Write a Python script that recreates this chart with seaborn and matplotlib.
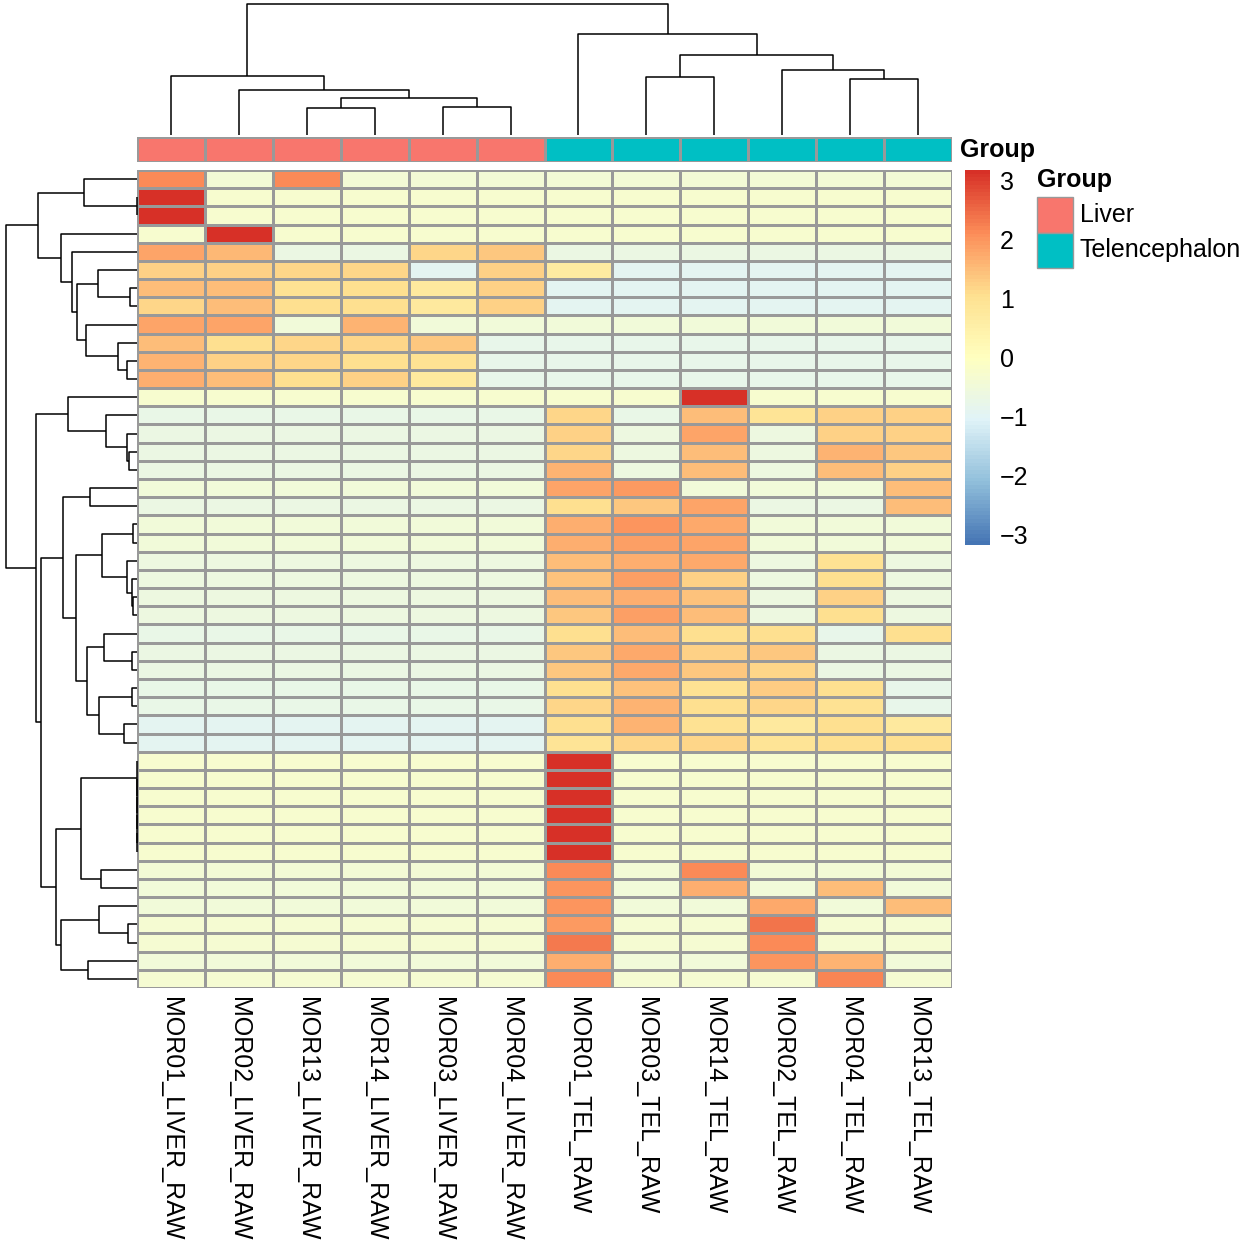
import numpy as np
import pandas as pd
import matplotlib
matplotlib.use("Agg")
import matplotlib.pyplot as plt
import seaborn as sns
from matplotlib.colors import LinearSegmentedColormap, ListedColormap
from matplotlib.patches import Rectangle

sns.set_style("white")
plt.rcParams["font.family"] = ["Liberation Sans", "DejaVu Sans"]
plt.rcParams["text.color"] = "black"
plt.rcParams["xtick.labelcolor"] = "black"
plt.rcParams["ytick.labelcolor"] = "black"
plt.rcParams["axes.labelcolor"] = "black"

# ---------------- data ----------------
sample_names = ["MOR01_LIVER_RAW", "MOR02_LIVER_RAW", "MOR13_LIVER_RAW", "MOR14_LIVER_RAW",
                "MOR03_LIVER_RAW", "MOR04_LIVER_RAW", "MOR01_TEL_RAW", "MOR03_TEL_RAW",
                "MOR14_TEL_RAW", "MOR02_TEL_RAW", "MOR04_TEL_RAW", "MOR13_TEL_RAW"]
sample_groups = ["Liver"] * 6 + ["Telencephalon"] * 6
group_levels = ["Liver", "Telencephalon"]
group_colors = ["#F8766D", "#00BFC4"]

MOR01_LIVER_RAW = [2.14, 3.18, 3.18, -0.29, 1.80, 1.27, 1.48, 1.17, 1.80, 1.48, 1.60, 1.70,
                   -0.29, -0.74, -0.64, -0.64, -0.64, -0.48, -0.64, -0.48, -0.48, -0.58, -0.58, -0.58, -0.58, -0.74, -0.64, -0.64, -0.74, -0.74, -0.90, -0.95,
                   -0.29, -0.29, -0.29, -0.29, -0.29, -0.29, -0.43, -0.48, -0.48, -0.37, -0.37, -0.48, -0.37]
MOR02_LIVER_RAW = [-0.43, -0.29, -0.29, 3.18, 1.54, 1.27, 1.48, 1.48, 1.80, 1.06, 1.27, 1.48,
                   -0.29, -0.74, -0.64, -0.64, -0.64, -0.48, -0.64, -0.48, -0.48, -0.58, -0.58, -0.58, -0.58, -0.74, -0.64, -0.64, -0.74, -0.74, -0.90, -0.95,
                   -0.29, -0.29, -0.29, -0.29, -0.29, -0.29, -0.43, -0.48, -0.48, -0.37, -0.37, -0.48, -0.37]
MOR13_LIVER_RAW = [2.14, -0.29, -0.29, -0.29, -0.64, 1.17, 1.00, 1.06, -0.50, 1.17, 1.17, 1.06,
                   -0.29, -0.74, -0.64, -0.64, -0.64, -0.48, -0.64, -0.48, -0.48, -0.58, -0.58, -0.58, -0.58, -0.74, -0.64, -0.64, -0.74, -0.74, -0.90, -0.95,
                   -0.29, -0.29, -0.29, -0.29, -0.29, -0.29, -0.43, -0.48, -0.48, -0.37, -0.37, -0.48, -0.37]
MOR14_LIVER_RAW = [-0.43, -0.29, -0.29, -0.29, -0.64, 1.17, 1.06, 1.06, 1.60, 1.17, 1.06, 1.27,
                   -0.29, -0.74, -0.64, -0.64, -0.64, -0.48, -0.64, -0.48, -0.48, -0.58, -0.58, -0.58, -0.58, -0.74, -0.64, -0.64, -0.74, -0.74, -0.90, -0.95,
                   -0.29, -0.29, -0.29, -0.29, -0.29, -0.29, -0.43, -0.48, -0.48, -0.37, -0.37, -0.48, -0.37]
MOR03_LIVER_RAW = [-0.43, -0.29, -0.29, -0.29, 1.17, -0.90, 0.74, 0.74, -0.50, 1.38, 1.00, 0.74,
                   -0.29, -0.74, -0.64, -0.64, -0.64, -0.48, -0.64, -0.48, -0.48, -0.58, -0.58, -0.58, -0.58, -0.74, -0.64, -0.64, -0.74, -0.74, -0.90, -0.95,
                   -0.29, -0.29, -0.29, -0.29, -0.29, -0.29, -0.43, -0.48, -0.48, -0.37, -0.37, -0.48, -0.37]
MOR04_LIVER_RAW = [-0.43, -0.29, -0.29, -0.29, 1.38, 1.27, 1.27, 1.27, -0.50, -0.80, -0.80, -0.80,
                   -0.29, -0.74, -0.64, -0.64, -0.64, -0.48, -0.64, -0.48, -0.48, -0.58, -0.58, -0.58, -0.58, -0.74, -0.64, -0.64, -0.74, -0.74, -0.90, -0.95,
                   -0.29, -0.29, -0.29, -0.29, -0.29, -0.29, -0.43, -0.48, -0.48, -0.37, -0.37, -0.48, -0.37]
MOR01_TEL_RAW = [-0.43, -0.29, -0.29, -0.29, -0.68, 0.64, -0.95, -0.95, -0.48, -0.80, -0.80, -0.80,
                 -0.29, 1.17, 1.27, 1.17, 1.60, 1.80, 1.06, 1.70, 1.70, 1.48, 1.43, 1.48, 1.38, 1.06, 1.38, 1.38, 1.06, 1.17, 1.06, 0.90,
                 3.18, 3.18, 3.18, 3.18, 3.18, 3.18, 2.14, 2.00, 2.00, 1.96, 2.33, 1.70, 2.12]
MOR03_TEL_RAW = [-0.43, -0.29, -0.29, -0.29, -0.68, -0.90, -0.95, -0.95, -0.48, -0.80, -0.80, -0.80,
                 -0.29, -0.70, -0.58, -0.58, -0.58, 1.96, 1.38, 2.00, 1.85, 1.70, 1.85, 1.70, 1.85, 1.48, 1.75, 1.75, 1.43, 1.60, 1.60, 1.17,
                 -0.29, -0.29, -0.29, -0.29, -0.29, -0.29, -0.43, -0.48, -0.48, -0.37, -0.37, -0.48, -0.37]
MOR14_TEL_RAW = [-0.43, -0.29, -0.29, -0.29, -0.68, -0.90, -0.95, -0.95, -0.48, -0.80, -0.80, -0.80,
                 3.18, 1.48, 1.80, 1.48, 1.48, -0.48, 1.80, 1.75, 1.80, 1.75, 1.27, 1.43, 1.48, 1.06, 1.27, 1.38, 1.00, 1.06, 1.00, 1.17,
                 -0.29, -0.29, -0.29, -0.29, -0.29, -0.29, 2.14, 1.70, -0.48, -0.37, -0.37, -0.48, -0.37]
MOR02_TEL_RAW = [-0.43, -0.29, -0.29, -0.29, -0.68, -0.90, -0.95, -0.95, -0.48, -0.80, -0.80, -0.80,
                 -0.29, 0.95, -0.58, -0.58, -0.58, -0.48, -0.64, -0.48, -0.48, -0.58, -0.58, -0.58, -0.58, 1.06, 1.38, 1.17, 1.33, 1.17, 0.74, 0.90,
                 -0.29, -0.29, -0.29, -0.29, -0.29, -0.29, -0.43, -0.48, 1.75, 2.40, 2.12, 2.00, -0.37]
MOR04_TEL_RAW = [-0.43, -0.29, -0.29, -0.29, -0.68, -0.90, -0.95, -0.95, -0.48, -0.80, -0.80, -0.80,
                 -0.29, 1.27, 1.27, 1.60, 1.48, -0.48, -0.64, -0.48, -0.48, 1.00, 1.06, 1.27, 1.06, -0.80, -0.64, -0.64, 1.06, 1.00, 1.06, 1.06,
                 -0.29, -0.29, -0.29, -0.29, -0.29, -0.29, -0.43, 1.48, -0.48, -0.37, -0.37, 1.60, 2.17]
MOR13_TEL_RAW = [-0.43, -0.29, -0.29, -0.29, -0.68, -0.90, -0.95, -0.95, -0.48, -0.80, -0.80, -0.80,
                 -0.29, 1.27, 1.27, 1.38, 1.27, 1.48, 1.48, -0.48, -0.48, -0.58, -0.58, -0.58, -0.58, 1.06, -0.64, -0.64, -0.80, -0.80, 0.74, 1.06,
                 -0.29, -0.29, -0.29, -0.29, -0.29, -0.29, -0.43, -0.48, 1.48, -0.37, -0.37, -0.48, -0.37]

# row dendrogram (leaf order 0..44, new clusters numbered from 45)
row_merge_left = [1, 0, 6, 5, 10, 9, 8, 48, 4, 3, 46,
                  15, 14, 13, 12,
                  17, 19, 23, 22, 21, 61, 26, 25, 28, 30, 68, 67, 65, 60,
                  36, 35, 34, 33, 32, 38, 78, 41, 40, 43, 82, 80,
                  73, 59, 55]
row_merge_right = [2, 45, 7, 47, 11, 49, 50, 51, 52, 53, 54,
                   16, 56, 57, 58,
                   18, 20, 24, 62, 63, 64, 27, 66, 29, 31, 69, 70, 71, 72,
                   37, 74, 75, 76, 77, 39, 79, 42, 81, 44, 83, 84,
                   85, 86, 87]
row_merge_height = [0.0, 5.3, 0.74, 3.9, 0.95, 1.9, 5.1, 6.0, 6.5, 7.6, 9.9,
                    0.84, 0.95, 3.1, 6.9,
                    4.7, 0.41, 0.40, 0.45, 1.0, 3.5, 0.52, 3.3, 0.52, 1.27, 3.8, 5.0, 6.1, 7.4,
                    0.0, 0.0, 0.0, 0.0, 0.0, 3.6, 5.6, 0.91, 3.8, 4.9, 7.6, 8.1,
                    9.6, 10.1, 13.06]

# column dendrogram (leaf order 0..11, new clusters numbered from 12)
col_merge_left = [2, 4, 12, 1, 0, 7, 10, 9, 17, 6, 16]
col_merge_right = [3, 5, 13, 14, 15, 8, 11, 18, 19, 20, 21]
col_merge_height = [27.3, 28.3, 37.3, 45.3, 59.3, 58.3, 56.0, 65.3, 80.3, 101.3, 131.0]

colorbar_ticks = [-3, -2, -1, 0, 1, 2, 3]
value_limit = 3.18

# ---------------- build ----------------
columns = [MOR01_LIVER_RAW, MOR02_LIVER_RAW, MOR13_LIVER_RAW, MOR14_LIVER_RAW,
           MOR03_LIVER_RAW, MOR04_LIVER_RAW, MOR01_TEL_RAW, MOR03_TEL_RAW,
           MOR14_TEL_RAW, MOR02_TEL_RAW, MOR04_TEL_RAW, MOR13_TEL_RAW]
df = pd.DataFrame({name: vals for name, vals in zip(sample_names, columns)})
n_rows, n_cols = df.shape

palette7 = ["#4575B4", "#91BFDB", "#E0F3F8", "#FFFFBF", "#FEE090", "#FC8D59", "#D73027"]
cmap = LinearSegmentedColormap.from_list("rdylbu_rev", palette7, N=100)
grid_col = "#999999"
FS = 18.0

W = 1258
fig = plt.figure(figsize=(W / 100, W / 100), dpi=100)


def rect(x0, y0, x1, y1):
    return [x0 / W, 1 - y1 / W, (x1 - x0) / W, (y1 - y0) / W]


ax_hm = fig.add_axes(rect(137, 170, 952, 988))
ax_cb = fig.add_axes(rect(965, 170, 990, 545))
sns.heatmap(df, ax=ax_hm, cmap=cmap, vmin=-value_limit, vmax=value_limit,
            linewidths=1.0, linecolor=grid_col, cbar_ax=ax_cb,
            xticklabels=True, yticklabels=False,
            cbar_kws={"ticks": colorbar_ticks})
ax_hm.set_xlabel("")
ax_hm.set_ylabel("")
ax_hm.tick_params(axis="x", length=0, pad=6.5, labelsize=FS, labelcolor="black")
for lab in ax_hm.get_xticklabels():
    lab.set_rotation(270)
    lab.set_ha("center")
    lab.set_va("top")

cb = ax_hm.collections[0].colorbar
cb.outline.set_visible(False)
ax_cb.tick_params(length=0, pad=7, labelsize=FS, labelcolor="black")
ax_cb.set_yticklabels([("\u2212" + str(abs(t))) if t < 0 else str(t) for t in colorbar_ticks])

# annotation bar
ax_an = fig.add_axes(rect(137, 137, 952, 162))
ann = pd.DataFrame([[group_levels.index(g) for g in sample_groups]], columns=sample_names)
sns.heatmap(ann, ax=ax_an, cmap=ListedColormap(group_colors), vmin=-0.5, vmax=1.5,
            cbar=False, linewidths=1.0, linecolor=grid_col,
            xticklabels=False, yticklabels=False)
ax_an.set_xlabel("")
ax_an.set_ylabel("")


def dendro_segments(n, left, right, height):
    pos = {i: i + 0.5 for i in range(n)}
    hgt = {i: 0.0 for i in range(n)}
    segs = []
    for k, (a, b, hh) in enumerate(zip(left, right, height)):
        segs.append(([pos[a], pos[a], pos[b], pos[b]], [hgt[a], hh, hh, hgt[b]]))
        pos[n + k] = (pos[a] + pos[b]) / 2
        hgt[n + k] = hh
    return segs


# row dendrogram
ax_rd = fig.add_axes(rect(6, 170, 137, 988))
for p, h in dendro_segments(n_rows, row_merge_left, row_merge_right, row_merge_height):
    ax_rd.plot(h, p, color="black", lw=1.1, clip_on=False, solid_capstyle="butt")
ax_rd.set_xlim(max(row_merge_height), 0)
ax_rd.set_ylim(n_rows, 0)
ax_rd.axis("off")

# column dendrogram
ax_cd = fig.add_axes(rect(137, 4, 952, 135))
for p, h in dendro_segments(n_cols, col_merge_left, col_merge_right, col_merge_height):
    ax_cd.plot(p, h, color="black", lw=1.1, clip_on=False, solid_capstyle="butt")
ax_cd.set_xlim(0, n_cols)
ax_cd.set_ylim(0, max(col_merge_height))
ax_cd.axis("off")

# overlay for annotation labels and legend
ax_tx = fig.add_axes([0, 0, 1, 1])
ax_tx.set_xlim(0, W)
ax_tx.set_ylim(W, 0)
ax_tx.axis("off")
ax_tx.text(960, 150, "Group", fontsize=FS, fontweight="bold", va="center", ha="left", color="black")
ax_tx.text(1037, 180, "Group", fontsize=FS, fontweight="bold", va="center", ha="left", color="black")
box_top = [197, 232.5]
for lvl, colr, y0 in zip(group_levels, group_colors, box_top):
    ax_tx.add_patch(Rectangle((1037, y0), 36, 35.5, facecolor=colr, edgecolor=grid_col, lw=1.0))
    ax_tx.text(1080, y0 + 18, lvl, fontsize=FS, va="center", ha="left", color="black")

fig.savefig("out.png", dpi=100)
